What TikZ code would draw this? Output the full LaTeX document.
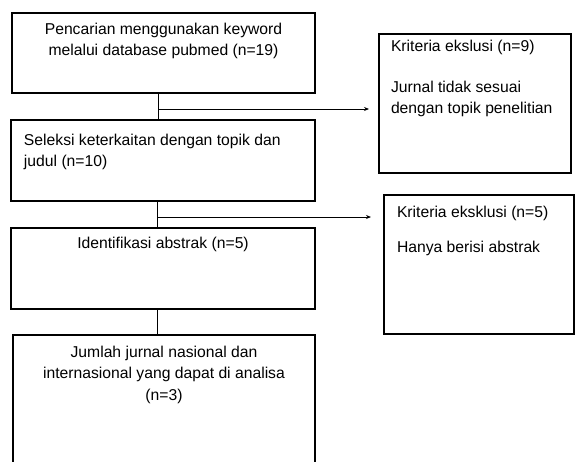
\documentclass[tikz,border=0pt]{standalone}
\usepackage{fontspec}
\setmainfont{Liberation Sans}
\usetikzlibrary{arrows.meta, positioning}

% text block of a box: width, height, layout, text
\newcommand{\flowtext}[4]{\parbox[c][#2][t]{#1}{#3\strut #4}}

\begin{document}
\begin{tikzpicture}[
    x=1pt, y=-1pt,
    fbox/.style={
      rectangle, draw=black, line width=2pt,
      inner sep=0pt, anchor=north west,
      font=\fontsize{15.7}{21.5}\selectfont
    },
    link/.style={line width=0.9pt},
    arr/.style={-{Stealth[length=5pt, width=4pt]}, line width=0.9pt}
  ]
  \useasboundingbox (0,0) rectangle (575,461);

  \node[fbox] (search) at (11,12)
    {\flowtext{303pt}{80pt}{\centering\vspace*{6pt}}
      {Pencarian menggunakan keyword\\ melalui database pubmed (n=19)}};
  \node[fbox] (select) at (10,119)
    {\flowtext{304pt}{81pt}{\raggedright\leftskip=13pt\vspace*{10pt}}
      {Seleksi keterkaitan dengan topik dan\\ judul (n=10)}};
  \node[fbox] (abstr) at (10,227)
    {\flowtext{304pt}{81pt}{\centering\vspace*{5pt}}
      {Identifikasi abstrak (n=5)}};
  \node[fbox] (result) at (12,334)
    {\flowtext{302pt}{140pt}{\centering\vspace*{7pt}}
      {Jumlah jurnal nasional dan\\ internasional yang dapat di analisa\\ (n=3)}};

  \node[fbox] (excl1) at (378,33)
    {\flowtext{192pt}{139pt}{\raggedright\leftskip=12pt\vspace*{2pt}}
      {Kriteria ekslusi (n=9)\\[19.5pt] Jurnal tidak sesuai\\ dengan topik penelitian}};
  \node[fbox] (excl2) at (383,194)
    {\flowtext{190pt}{139pt}{\raggedright\leftskip=13pt\vspace*{7pt}}
      {Kriteria eksklusi (n=5)\\[13.5pt] Hanya berisi abstrak}};

  \coordinate (j1) at (158,109);
  \coordinate (e1) at (369,109);
  \coordinate (j2) at (157,217);
  \coordinate (e2) at (371,217);

  \draw[link] (j1 |- search.south) -- (j1 |- select.north);
  \draw[arr]  (j1) -- (e1);
  \draw[link] (j2 |- select.south) -- (j2 |- abstr.north);
  \draw[arr]  (j2) -- (e2);
  \draw[link] (j2 |- abstr.south) -- (j2 |- result.north);
\end{tikzpicture}
\end{document}
